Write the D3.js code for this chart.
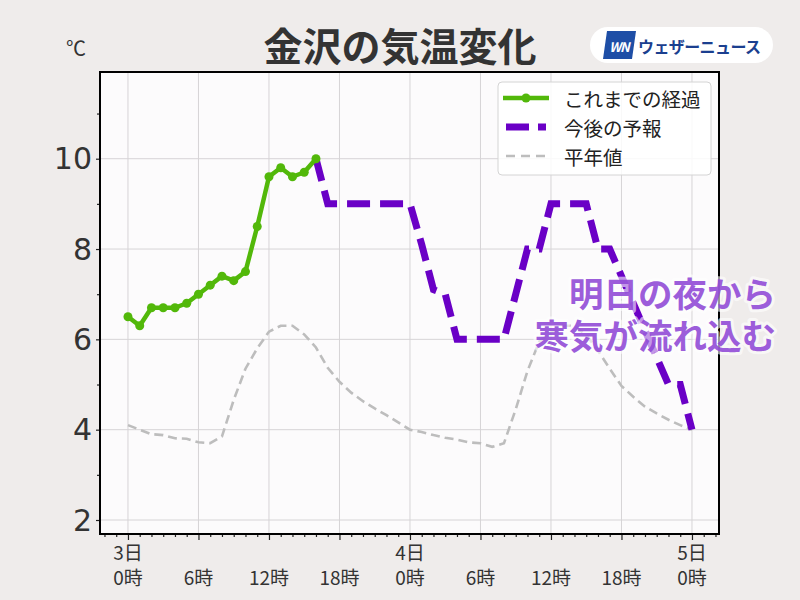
<!DOCTYPE html>
<html><head><meta charset="utf-8">
<script src="https://cdn.jsdelivr.net/npm/d3@7"></script>
<style>
html,body{margin:0;padding:0;background:#efeceb;}
text{font-family:"Noto Sans CJK JP","Noto Sans",sans-serif;}
</style></head>
<body><svg id="c" width="800" height="600"></svg>
<script>
// ---- data ----
const titleText = "金沢の気温変化";
const unitText = "℃";
// observed (hourly from 3日0時)
const obsStart = 0;
const obsTemp = [6.5,6.3,6.7,6.7,6.7,6.8,7.0,7.2,7.4,7.3,7.5,8.5,9.6,9.8,9.6,9.7,10.0];
// forecast (hourly from 3日16時)
const fcStart = 16;
const fcTemp = [10.0,9,9,9,9,9,9,9,9,8.1,7.1,7,6,6,6,6,6,7,8,8,9,9,9,9,8,8,7.4,6.8,6.2,5.6,5,5,4];
// normal (hourly from 3日0時)
const nrmStart = 0;
const nrmTemp = [4.1,4.0,3.9,3.88,3.81,3.8,3.72,3.7,3.85,4.66,5.35,5.8,6.17,6.3,6.3,6.11,5.82,5.37,5.06,4.82,4.63,4.47,4.32,4.16,
                 4.0,3.95,3.88,3.82,3.78,3.72,3.7,3.62,3.7,4.45,5.3,5.95,6.15,6.3,6.3,6.1,5.75,5.35,4.97,4.73,4.51,4.36,4.22,4.1,4.0];
const xMajor = [0,6,12,18,24,30,36,42,48];
const xDayLabels = ["3日","","","","4日","","","","5日"];
const xTimeLabels = ["0時","6時","12時","18時","0時","6時","12時","18時","0時"];
const xMinor = [-2,-1,1,2,3,4,5,7,8,9,10,11,13,14,15,16,17,19,20,21,22,23,25,26,27,28,29,31,32,33,34,35,37,38,39,40,41,43,44,45,46,47,49,50];
const yMajor = [2,4,6,8,10];
const yMinor = [3,5,7,9,11];
const legendLabels = ["これまでの経過","今後の予報","平年値"];
const noteLines = ["明日の夜から","寒気が流れ込む"];
const logoText = "ウェザーニュース";

// ---- layout ----
const L=100, R=719, T=72, B=534;
const svg = d3.select("#c");
const x = d3.scaleLinear().domain([-2.38,50.3]).range([L,R]);
const y = d3.scaleLinear().domain([1.69,11.92]).range([B,T]);

svg.append("rect").attr("width",800).attr("height",600).attr("fill","#efeceb");
svg.append("rect").attr("x",L).attr("y",T).attr("width",R-L).attr("height",B-T).attr("fill","#fcfbfc");

// grid
const grid = svg.append("g").attr("stroke","#d6d4d6").attr("stroke-width",1);
grid.selectAll("line.v").data(xMajor).join("line").attr("class","v")
  .attr("x1",d=>x(d)).attr("x2",d=>x(d)).attr("y1",T).attr("y2",B);
grid.selectAll("line.h").data(yMajor).join("line").attr("class","h")
  .attr("y1",d=>y(d)).attr("y2",d=>y(d)).attr("x1",L).attr("x2",R);

const line = d3.line().x(d=>x(d[0])).y(d=>y(d[1]));
const nrmPts = nrmTemp.map((v,i)=>[i+nrmStart,v]);
const fcPts = fcTemp.map((v,i)=>[i+fcStart,v]);
const obsPts = obsTemp.map((v,i)=>[i+obsStart,v]);

const plot = svg.append("g");
plot.append("path").attr("d",line(nrmPts)).attr("fill","none")
  .attr("stroke","#bdbdbd").attr("stroke-width",2.6).attr("stroke-dasharray","9,5");
plot.append("path").attr("d",line(fcPts)).attr("fill","none")
  .attr("stroke","#6a00c6").attr("stroke-width",7).attr("stroke-dasharray","23,10");
plot.append("path").attr("d",line(obsPts)).attr("fill","none")
  .attr("stroke","#52b80a").attr("stroke-width",4.5).attr("stroke-linejoin","round");
plot.selectAll("circle").data(obsPts).join("circle")
  .attr("cx",d=>x(d[0])).attr("cy",d=>y(d[1])).attr("r",4.5).attr("fill","#52b80a");

// axes
const tickCol = "#222";
const gx = svg.append("g").attr("transform",`translate(0,${B})`);
gx.call(d3.axisBottom(x).tickValues(xMajor).tickSize(6).tickFormat(""));
const gx2 = svg.append("g").attr("transform",`translate(0,${B})`);
gx2.call(d3.axisBottom(x).tickValues(xMinor).tickSize(3).tickFormat(""));
const gy = svg.append("g").attr("transform",`translate(${L},0)`);
gy.call(d3.axisLeft(y).tickValues(yMajor).tickSize(4).tickFormat(""));
const gy2 = svg.append("g").attr("transform",`translate(${L},0)`);
gy2.call(d3.axisLeft(y).tickValues(yMinor).tickSize(3).tickFormat(""));
[gx,gx2,gy,gy2].forEach(g=>{g.select(".domain").remove();g.selectAll("line").attr("stroke",tickCol).attr("stroke-width",1.2);});

svg.selectAll("text.yl").data(yMajor).join("text").attr("class","yl")
  .attr("x",92).attr("y",d=>y(d)).attr("text-anchor","end").attr("dominant-baseline","central")
  .style("font-family","'DejaVu Sans'")
  .attr("font-size",30).attr("fill","#333").text(d=>d);
svg.selectAll("text.xd").data(xMajor).join("text").attr("class","xd")
  .attr("x",d=>x(d)).attr("y",551).attr("text-anchor","middle").attr("dominant-baseline","central")
  .attr("font-size",19).attr("fill","#333").text((d,i)=>xDayLabels[i]);
svg.selectAll("text.xt").data(xMajor).join("text").attr("class","xt")
  .attr("x",d=>x(d)).attr("y",576).attr("text-anchor","middle").attr("dominant-baseline","central")
  .attr("font-size",19).attr("fill","#333").text((d,i)=>xTimeLabels[i]);

// frame
svg.append("rect").attr("x",L).attr("y",T).attr("width",R-L).attr("height",B-T)
  .attr("fill","none").attr("stroke","#000").attr("stroke-width",2);

// legend
const lg = svg.append("g");
lg.append("rect").attr("x",498).attr("y",82).attr("width",213).attr("height",93).attr("rx",4)
  .attr("fill","#ffffff").attr("fill-opacity",0.85).attr("stroke","#d4d4d4");
const ly = [98,127,156];
lg.append("line").attr("x1",503).attr("x2",549).attr("y1",ly[0]).attr("y2",ly[0]).attr("stroke","#52b80a").attr("stroke-width",4.5);
lg.append("circle").attr("cx",526).attr("cy",ly[0]).attr("r",4.5).attr("fill","#52b80a");
lg.append("line").attr("x1",506).attr("x2",546).attr("y1",ly[1]).attr("y2",ly[1]).attr("stroke","#6a00c6").attr("stroke-width",7).attr("stroke-dasharray","23,9");
lg.append("line").attr("x1",506).attr("x2",546).attr("y1",ly[2]).attr("y2",ly[2]).attr("stroke","#bdbdbd").attr("stroke-width",2.6).attr("stroke-dasharray","9,6");
lg.selectAll("text").data(legendLabels).join("text")
  .attr("x",564).attr("y",(d,i)=>ly[i]).attr("dominant-baseline","central")
  .attr("font-size",19.5).attr("fill","#222").text(d=>d);

// annotation (one text block, two lines)
const note = svg.append("text").attr("class","note")
  .attr("text-anchor","end")
  .attr("font-size",34.5).attr("font-weight","bold")
  .attr("fill","#8f47d6").attr("fill-opacity",0.88)
  .attr("stroke","#ffffff").attr("stroke-opacity",0.6).attr("stroke-width",6).attr("stroke-linejoin","round")
  .style("paint-order","stroke");
note.selectAll("tspan").data(noteLines).join("tspan")
  .attr("x",776).attr("y",(d,i)=>307+i*42).text(d=>d);

// title
svg.append("text").attr("x",400).attr("y",44).attr("text-anchor","middle").attr("dominant-baseline","central")
  .attr("font-size",39).attr("font-weight","bold").attr("fill","#333").text(titleText);
svg.append("text").attr("x",76).attr("y",47).attr("text-anchor","middle").attr("dominant-baseline","central")
  .attr("font-size",20).attr("fill","#333").text(unitText);

// logo
const lo = svg.append("g");
lo.append("rect").attr("x",590).attr("y",27).attr("width",183).attr("height",36).attr("rx",18).attr("fill","#ffffff");
lo.append("path").attr("d","M607,31 L636,31 L632,59 L603,59 Z").attr("fill","#1e4ea6");
lo.append("text").attr("x",619).attr("y",46).attr("text-anchor","middle").attr("dominant-baseline","central")
  .attr("font-size",13).attr("font-weight","bold").attr("font-style","italic").attr("fill","#fff")
  .attr("letter-spacing",-1).text("WN");
lo.append("text").attr("x",638).attr("y",46).attr("dominant-baseline","central")
  .attr("font-size",16).attr("font-weight","bold").attr("fill","#1b3f8f").attr("letter-spacing",-0.6).text(logoText);
</script></body></html>
